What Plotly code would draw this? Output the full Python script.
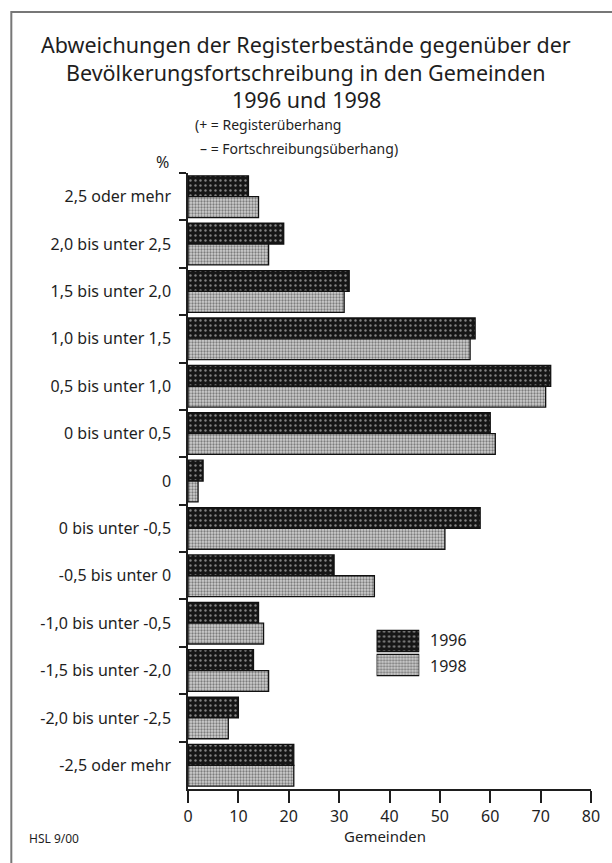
import plotly.graph_objects as go

categories = ["2,5 oder mehr", "2,0 bis unter 2,5", "1,5 bis unter 2,0", "1,0 bis unter 1,5",
              "0,5 bis unter 1,0", "0 bis unter 0,5", "0", "0 bis unter -0,5",
              "-0,5 bis unter 0", "-1,0 bis unter -0,5", "-1,5 bis unter -2,0",
              "-2,0 bis unter -2,5", "-2,5 oder mehr"]
series_names = ["1996", "1998"]
v1996 = [12, 19, 32, 57, 72, 60, 3, 58, 29, 14, 13, 10, 21]
v1998 = [14, 16, 31, 56, 71, 61, 2, 51, 37, 15, 16, 8, 21]
x_ticks = [0, 10, 20, 30, 40, 50, 60, 70, 80]
legend_key = [1, 1]

W, H = 612, 863
L, R, T, B = 188, 594, 173, 789

def px(x):
    return (x - L) / (R - L)

def py(y):
    return (B - y) / (B - T)

FONT = "Noto Sans"
INK = "#1e1e1e"

pat_dark = dict(shape=".", bgcolor="#161616", fgcolor="#f0f0f0", size=5, solidity=0.18)
pat_light = dict(shape=".", bgcolor="#cfcfcf", fgcolor="#2a2a2a", size=3, solidity=0.45)
styles = [pat_dark, pat_light]

fig = go.Figure()
for name, vals, pat in zip(series_names, [v1996, v1998], styles):
    fig.add_trace(go.Bar(
        y=categories, x=vals, orientation="h", name=name, showlegend=False,
        marker=dict(color=pat["bgcolor"], line=dict(color="#111", width=1.3), pattern=pat),
    ))

# legend keys (custom, larger swatches)
for name, k, pat in zip(series_names, legend_key, styles):
    fig.add_trace(go.Bar(
        y=[name], x=[k], orientation="h", name=name, showlegend=False,
        xaxis="x2", yaxis="y2", hoverinfo="skip",
        marker=dict(color=pat["bgcolor"], line=dict(color="#111", width=1.3), pattern=pat),
    ))

fig.update_layout(
    width=W, height=H,
    margin=dict(l=L, r=W - R, t=T, b=H - B, pad=0),
    paper_bgcolor="white", plot_bgcolor="white",
    barmode="group", bargap=0.12, bargroupgap=0.0,
    font=dict(family=FONT, color=INK, size=15),
    showlegend=False,
    xaxis=dict(range=[0, 80], tickvals=x_ticks, ticktext=[str(v) for v in x_ticks],
               showgrid=False, zeroline=False, showline=True, linecolor=INK, linewidth=1.5,
               ticks="outside", ticklen=12, tickwidth=1.5, tickcolor=INK,
               tickfont=dict(size=16, color=INK), fixedrange=True),
    yaxis=dict(autorange=False, range=[12.5, -0.5], showgrid=False, zeroline=False,
               showline=True, linecolor=INK, linewidth=1.5,
               ticks="outside", tickson="boundaries", ticklen=7, tickwidth=1.5, tickcolor=INK,
               tickfont=dict(size=16, color=INK), ticklabelstandoff=12),
    xaxis2=dict(domain=[px(378), px(421)], range=[0, 1], anchor="y2", visible=False,
                fixedrange=True),
    yaxis2=dict(domain=[py(677), py(629)], anchor="x2", autorange="reversed", visible=False,
                fixedrange=True),
)

ann = []
title_lines = ["Abweichungen der Registerbestände gegenüber der",
               "Bevölkerungsfortschreibung in den Gemeinden",
               "1996 und 1998"]
for i, t in enumerate(title_lines):
    ann.append(dict(text=t, x=px(307), y=py(45 + 27 * i), xref="paper", yref="paper",
                    xanchor="center", yanchor="middle", showarrow=False,
                    font=dict(size=21.5, family=FONT, color=INK)))
ann.append(dict(text="(+ = Registerüberhang", x=px(193), y=py(125), xref="paper", yref="paper",
                xanchor="left", yanchor="middle", showarrow=False,
                font=dict(size=14, family=FONT, color=INK)))
ann.append(dict(text="– = Fortschreibungsüberhang)", x=px(198), y=py(148), xref="paper", yref="paper",
                xanchor="left", yanchor="middle", showarrow=False,
                font=dict(size=14, family=FONT, color=INK)))
ann.append(dict(text="%", x=px(171), y=py(162), xref="paper", yref="paper",
                xanchor="right", yanchor="middle", showarrow=False,
                font=dict(size=16, family=FONT, color=INK)))
ann.append(dict(text="Gemeinden", x=px(386), y=py(836), xref="paper", yref="paper",
                xanchor="center", yanchor="middle", showarrow=False,
                font=dict(size=15, family=FONT, color=INK)))
ann.append(dict(text="HSL 9/00", x=px(26), y=py(838), xref="paper", yref="paper",
                xanchor="left", yanchor="middle", showarrow=False,
                font=dict(size=12, family=FONT, color=INK)))
for i, name in enumerate(series_names):
    ann.append(dict(text=name, x=px(430), y=py(640 + 26 * i), xref="paper", yref="paper",
                    xanchor="left", yanchor="middle", showarrow=False,
                    font=dict(size=16, family=FONT, color=INK)))
fig.update_layout(annotations=ann)

fig.add_shape(type="rect", xref="paper", yref="paper",
              x0=px(10), x1=px(640), y0=py(900), y1=py(12),
              line=dict(color="#777", width=2), fillcolor="rgba(0,0,0,0)", layer="below")

fig.write_html("out.html", config={"displayModeBar": False},
               post_script="document.body.style.margin='0';document.body.style.overflow='hidden';")
